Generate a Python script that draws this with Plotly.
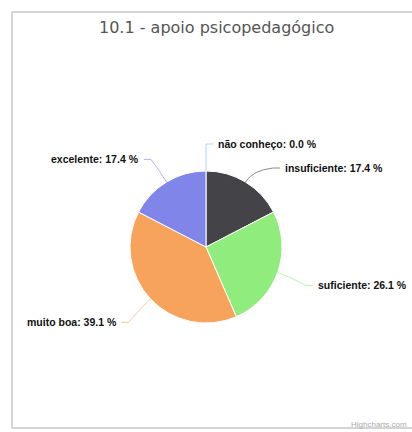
import math
import plotly.graph_objects as go

# ---- data ----
title_text = "10.1 - apoio psicopedagógico"
categories = ["não conheço", "insuficiente", "suficiente", "muito boa", "excelente"]
counts = [0, 4, 6, 9, 4]
colors = ["#7cb5ec", "#434348", "#90ed7d", "#f7a35c", "#8085e9"]
credit_text = "Highcharts.com"

# ---- layout geometry ----
W, H = 412, 432
cx, cy, r = 206, 247, 76
dist = 30
pad = 10
min_gap = 24

def px(x):
    return x / W

def py(y):
    return 1 - y / H

total = sum(counts)
pcts = [100.0 * c / total for c in counts]

fig = go.Figure()
fig.add_trace(go.Pie(
    labels=categories,
    values=counts,
    marker=dict(colors=colors, line=dict(color="#ffffff", width=1)),
    sort=False,
    direction="clockwise",
    rotation=0,
    textinfo="none",
    hoverinfo="label+percent",
    showlegend=False,
    domain=dict(x=[px(cx - r), px(cx + r)], y=[py(cy + r), py(cy - r)]),
))

# label positions derived from slice angles
R = r + dist
cum = 0.0
items = []
for cat, c, p, col in zip(categories, counts, pcts, colors):
    start = cum / total * 360
    cum += c
    end = cum / total * 360
    mid = (start + end) / 2
    th = math.radians(mid)
    side = 1 if mid < 180 else -1
    ly = cy - R * math.cos(th)
    items.append(dict(cat=cat, p=p, col=col, th=th, side=side, ly=ly))

# simple collision push per side
for s in (1, -1):
    grp = sorted([it for it in items if it["side"] == s], key=lambda it: it["ly"])
    for i in range(1, len(grp)):
        if grp[i]["ly"] - grp[i - 1]["ly"] < min_gap:
            grp[i]["ly"] = grp[i - 1]["ly"] + min_gap

annotations = []
shapes = []
for it in items:
    dy = it["ly"] - cy
    dx = math.sqrt(max(R * R - dy * dy, 0))
    lx = cx + it["side"] * dx
    ty = it["ly"] + 3
    tx = lx + it["side"] * pad
    ex = cx + r * math.sin(it["th"])
    ey = cy - r * math.cos(it["th"])
    bx = cx + (r + 14) * math.sin(it["th"])
    by = cy - (r + 14) * math.cos(it["th"])
    path = "M {:.4f},{:.4f} Q {:.4f},{:.4f} {:.4f},{:.4f} L {:.4f},{:.4f}".format(
        px(ex), py(ey), px(bx), py(by), px(lx), py(ty), px(tx - it["side"] * 3), py(ty))
    shapes.append(dict(type="path", xref="paper", yref="paper", path=path,
                       line=dict(color=it["col"], width=1), opacity=0.6))
    annotations.append(dict(
        x=px(tx), y=py(ty), xref="paper", yref="paper",
        text="<b>{}: {:.1f} %</b>".format(it["cat"], it["p"]),
        showarrow=False,
        xanchor="left" if it["side"] > 0 else "right", yanchor="middle",
        font=dict(family="Liberation Sans, Arial, sans-serif", size=10.5, color="#111111"),
    ))

annotations.append(dict(
    x=px(216), y=py(28), xref="paper", yref="paper",
    text=title_text, showarrow=False, xanchor="center", yanchor="middle",
    font=dict(family="DejaVu Sans, Verdana, sans-serif", size=16, color="#555555"),
))
annotations.append(dict(
    x=px(409), y=py(424), xref="paper", yref="paper",
    text=credit_text, showarrow=False, xanchor="right", yanchor="middle",
    font=dict(family="Liberation Sans, Arial, sans-serif", size=8, color="#aaaaaa"),
))

# chart frame: left, top and bottom edges (right edge runs off the picture)
frame = dict(color="#d4d4d4", width=2)
for (x0, y0, x1, y1) in [(12, 12, 12, 428), (12, 12, W, 12), (12, 428, W, 428)]:
    shapes.append(dict(type="line", xref="paper", yref="paper",
                       x0=px(x0), y0=py(y0), x1=px(x1), y1=py(y1),
                       line=frame, layer="below"))

fig.update_layout(
    width=W, height=H,
    margin=dict(l=0, r=0, t=0, b=0),
    paper_bgcolor="#ffffff",
    plot_bgcolor="#ffffff",
    annotations=annotations,
    shapes=shapes,
)

fig.write_html(
    "out.html",
    config={"displayModeBar": False},
    post_script="document.body.style.margin='0';document.body.style.overflow='hidden';",
)
